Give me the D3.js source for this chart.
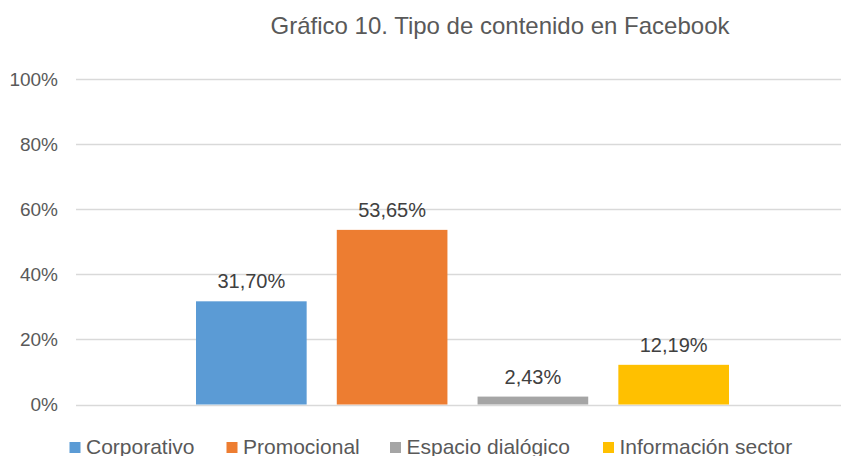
<!DOCTYPE html>
<html>
<head>
<meta charset="utf-8">
<script src="https://cdn.jsdelivr.net/npm/d3@7"></script>
<style>
  body { margin: 0; background: #fff; }
  svg { display: block; font-family: "Liberation Sans", Arial, sans-serif; }
</style>
</head>
<body>
<div id="chart"></div>
<script>
// Chart data
const title = "Gráfico 10. Tipo de contenido en Facebook";
const seriesNames = ["Corporativo", "Promocional", "Espacio dialógico", "Información sector"];
const seriesValues = [31.70, 53.65, 2.43, 12.19];
const seriesColors = ["#5b9bd5", "#ed7d31", "#a5a5a5", "#ffc000"];
const yTicks = [0, 20, 40, 60, 80, 100];

const width = 841, height = 456;
const svg = d3.select("#chart").append("svg")
  .attr("width", width)
  .attr("height", height);

const fmt = (v) => v.toFixed(2).replace(".", ",") + "%";

// Scales
const y = d3.scaleLinear().domain([0, 100]).range([404.5, 79]);
const x = d3.scaleBand().domain(seriesNames).range([196, 729]).paddingInner(0.214).paddingOuter(0);

// Title
svg.append("text")
  .attr("x", 500)
  .attr("y", 34)
  .attr("text-anchor", "middle")
  .attr("fill", "#595959")
  .style("font-size", "24px")
  .text(title);

// Gridlines
svg.append("g")
  .selectAll("line")
  .data(yTicks)
  .enter()
  .append("line")
  .attr("x1", 76)
  .attr("x2", width)
  .attr("y1", (d) => Math.round(y(d)) + 0.5)
  .attr("y2", (d) => Math.round(y(d)) + 0.5)
  .attr("stroke", "#d9d9d9")
  .attr("stroke-width", 1.5);

// Y axis labels
const yAxis = d3.axisLeft(y).tickValues(yTicks).tickFormat((d) => d + "%").tickSize(0).tickPadding(0);
const gy = svg.append("g").attr("transform", "translate(58,0)").call(yAxis);
gy.select(".domain").remove();
gy.selectAll("text")
  .attr("fill", "#595959")
  .style("font-size", "19px")
  .style("font-family", "'Liberation Sans', Arial, sans-serif");

// Bars
svg.append("g")
  .selectAll("rect")
  .data(seriesNames)
  .enter()
  .append("rect")
  .attr("x", (d) => x(d))
  .attr("width", x.bandwidth())
  .attr("y", (d, i) => y(seriesValues[i]))
  .attr("height", (d, i) => y(0) - y(seriesValues[i]))
  .attr("fill", (d, i) => seriesColors[i]);

// Data labels
svg.append("g")
  .selectAll("text")
  .data(seriesNames)
  .enter()
  .append("text")
  .attr("x", (d) => x(d) + x.bandwidth() / 2)
  .attr("y", (d, i) => y(seriesValues[i]) - 13)
  .attr("text-anchor", "middle")
  .attr("fill", "#404040")
  .style("font-size", "20px")
  .text((d, i) => fmt(seriesValues[i]));

// Legend
const legendX = [69.5, 226.5, 390, 603];
const legend = svg.append("g")
  .selectAll("g")
  .data(seriesNames)
  .enter()
  .append("g")
  .attr("transform", (d, i) => `translate(${legendX[i]},0)`);

legend.append("rect")
  .attr("x", 0)
  .attr("y", 442)
  .attr("width", 11)
  .attr("height", 11)
  .attr("fill", (d, i) => seriesColors[i]);

legend.append("text")
  .attr("x", 16.5)
  .attr("y", 453.5)
  .attr("fill", "#595959")
  .style("font-size", "21px")
  .text((d) => d);
</script>
</body>
</html>
